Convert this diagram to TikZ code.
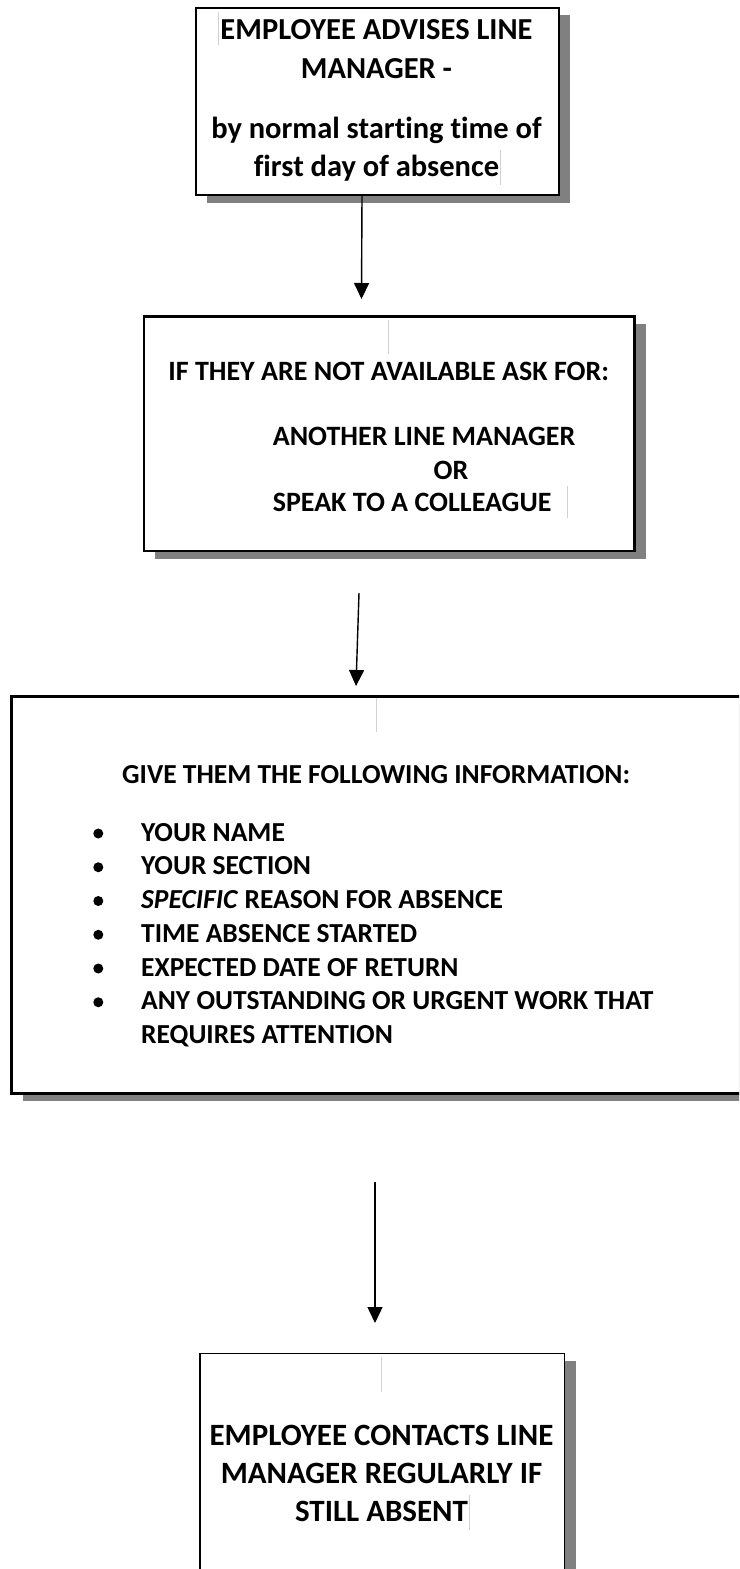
\documentclass[tikz,border=0pt]{standalone}
\usepackage{fontspec}
\setmainfont{Carlito}[Ligatures=NoCommon]
\usetikzlibrary{arrows.meta,shadows}
\begin{document}
\begin{tikzpicture}[x=1pt, y=-1pt,
    box/.style={draw, line width=2pt, fill=white, inner sep=0pt,
        drop shadow={shadow xshift=11pt, shadow yshift=-7.5pt, fill=black!50, opacity=1}},
    bigtxt/.style={font=\fontsize{30.5}{39}\selectfont\bfseries, inner sep=0pt, anchor=base},
    smalltxt/.style={font=\fontsize{27.5}{34}\selectfont\bfseries, inner sep=0pt, anchor=base west},
    flow/.style={line width=1.4pt, -{Triangle[width=15pt,length=16pt]}},
    cursor/.style={black!18, line width=1pt}]
    \useasboundingbox (0,0) rectangle (739,1569);
    \fill[white] (0,0) rectangle (739,1569);
    \clip (0,0) rectangle (739,1569);
    \node[box, minimum width=363pt, minimum height=187.5pt] (advise) at (377.5,101.25) {};
    \node[box, line width=2.6pt, minimum width=490.5pt, minimum height=234.5pt] (ask) at (389.25,433.75) {};
    \node[box, line width=2.6pt, minimum width=748.5pt, minimum height=397pt] (inform) at (385.75,895) {};
    \node[box, line width=1.6pt, minimum width=364.5pt, minimum height=256.5pt] (contact) at (382.25,1481.75) {};
    \foreach \t/\y [count=\i] in {EMPLOYEE ADVISES LINE/39.3, MANAGER -/78.3, by normal starting time of/138, first day of absence/176.7}
        \node[bigtxt] (adv\i) at (376.5,\y) {\t};
    \foreach \t/\x/\y [count=\i] in {IF THEY ARE NOT AVAILABLE ASK FOR:/168.2/380, ANOTHER LINE MANAGER/272.6/445, OR/433.4/479, SPEAK TO A COLLEAGUE/272.6/511.6}
        \node[smalltxt, font=\fontsize{28}{34}\selectfont\bfseries] (ask\i) at (\x,\y) {\t};
    \node[smalltxt] (inf0) at (122,783) {GIVE THEM THE FOLLOWING INFORMATION:};
    \foreach \t/\y [count=\i] in {YOUR NAME/841, YOUR SECTION/874.75, {\textit{SPECIFIC} REASON FOR ABSENCE}/908.5, TIME ABSENCE STARTED/942.25, EXPECTED DATE OF RETURN/976, ANY OUTSTANDING OR URGENT WORK THAT/1009.75, REQUIRES ATTENTION/1043.5}
        \node[smalltxt] (inf\i) at (141,\y) {\t};
    \foreach \y in {841,874.75,908.5,942.25,976,1009.75} \fill (98.3,\y-7.5) circle (5pt);
    \foreach \t/\y [count=\i] in {EMPLOYEE CONTACTS LINE/1445, MANAGER REGULARLY IF/1483.3, STILL ABSENT/1521.7}
        \node[bigtxt, font=\fontsize{31}{39}\selectfont\bfseries] (con\i) at (381.5,\y) {\t};
    \foreach \x/\ya/\yb in {218.3/11.7/45, 500/150/185, 388.4/320/354, 567.5/485.6/518.4, 376/698/732, 381.7/1356.7/1391.7, 469.3/1495/1530}
        \draw[cursor] (\x,\ya) -- (\x,\yb);
    \draw[flow] ([xshift=-15.5pt]advise.south) -- ([xshift=-27.75pt,yshift=16.2pt]ask.north);
    \draw[flow] ([xshift=-30.25pt,yshift=-40.7pt]ask.south) -- ([xshift=-29.75pt,yshift=9.2pt]inform.north);
    \draw[flow] ([xshift=-10.75pt,yshift=-87.2pt]inform.south) -- ([xshift=-7.25pt,yshift=29.7pt]contact.north);
\end{tikzpicture}
\end{document}
